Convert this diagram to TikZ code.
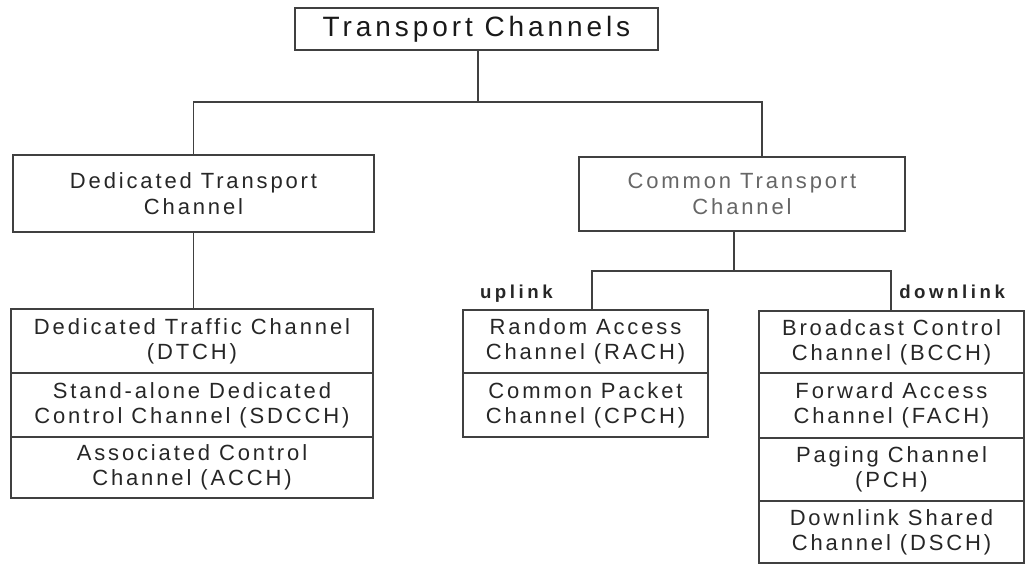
\documentclass[tikz,border=0pt]{standalone}
\usepackage{fontspec}
\setmainfont{Liberation Sans}
\newfontfamily\lsfont[LetterSpace=13]{Liberation Sans}
\newfontfamily\tagfont[LetterSpace=19]{Liberation Sans}
\newfontfamily\titlefont[LetterSpace=14]{Liberation Sans}
\begin{document}
\begin{tikzpicture}[
  x=0.75pt, y=-0.75pt,
  line/.style={draw=black!75, line width=1pt},
  conn/.style={draw=black!75, line width=1pt},
  box/.style 2 args={line, rectangle, inner sep=0pt, align=center,
    minimum width=#1*0.75pt, minimum height=#2*0.75pt,
    text=black!85, font=\lsfont\fontsize{16.5}{19}\selectfont},
  tag/.style={inner sep=0pt, text=black!85,
    font=\tagfont\bfseries\fontsize{14}{18.5}\selectfont}
]
\useasboundingbox (0,0) rectangle (1027,565);

% root
\node[box={363}{42}, font=\titlefont\fontsize{21}{24}\selectfont, text=black!90]
  (top) at (476.5,29) {Transport Channels};

% second level
\node[box={361}{77}] (ded) at (193.5,193.5) {Dedicated Transport\\Channel};
\node[box={326}{74}, text=black!60] (com) at (742,194) {Common Transport\\Channel};

% dedicated channels
\node[box={362}{64}] (dtch)  at (192,341)   {Dedicated Traffic Channel\\(DTCH)};
\node[box={362}{64}] (sdcch) at (192,405)   {Stand-alone Dedicated\\Control Channel (SDCCH)};
\node[box={362}{61}] (acch)  at (192,467.5) {Associated Control\\Channel (ACCH)};

% uplink common channels
\node[box={245}{63}] (rach) at (585.5,341.5) {Random Access\\Channel (RACH)};
\node[box={245}{64}] (cpch) at (585.5,405)   {Common Packet\\Channel (CPCH)};

% downlink common channels
\node[box={265}{62}] (bcch) at (891.5,342)   {Broadcast Control\\Channel (BCCH)};
\node[box={265}{65}] (fach) at (891.5,405.5) {Forward Access\\Channel (FACH)};
\node[box={265}{63}] (pch)  at (891.5,469.5) {Paging Channel\\(PCH)};
\node[box={265}{62}] (dsch) at (891.5,532)   {Downlink Shared\\Channel (DSCH)};

% link direction labels
\node[tag, anchor=base east] (up)   at (553,298) {uplink};
\node[tag, anchor=base west] (down) at (899,298) {downlink};

% bus joints
\coordinate (bus) at (478,102);
\coordinate (cin) at (762,102);
\coordinate (cbus) at (734,271);
\coordinate (ulk) at (592,271);
\coordinate (dlk) at (891,271);

% root to second level
\draw[conn] (bus |- top.south) -- (bus);
\draw[conn] (ded.north) -- (ded.north |- bus) -- (cin) -- (cin |- com.north);

% dedicated branch
\draw[conn] (ded.south) -- (ded.south |- dtch.north);

% common branch
\draw[conn] (cbus |- com.south) -- (cbus);
\draw[conn] (ulk |- rach.north) -- (ulk) -- (dlk) -- (dlk |- bcch.north);
\end{tikzpicture}
\end{document}
